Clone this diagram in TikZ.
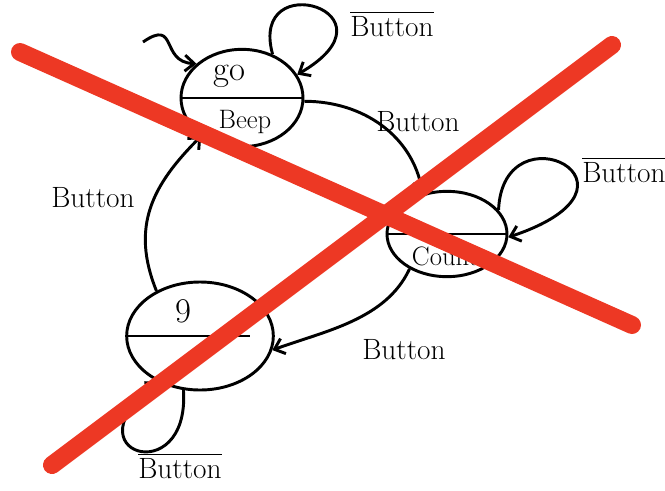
\documentclass[tikz,border=0pt]{standalone}
\usepackage{tikz}
\usetikzlibrary{arrows.meta}
\usetikzlibrary{shapes.geometric, positioning, calc}
\usepackage{xcolor}
\usepackage{amsmath}

\definecolor{crossred}{RGB}{237,56,36}
\newcommand{\notbtn}{$\overline{\mbox{Button}}$}

\begin{document}
\begin{tikzpicture}[x=0.75pt, y=-0.75pt, >={Straight Barb[length=7pt,width=12pt]}, line width=2.2pt,
    state/.style={draw, ellipse, inner sep=0pt},
    lbl/.style={font=\fontsize{22}{26}\selectfont},
    big/.style={font=\fontsize{26}{30}\selectfont}]
      \useasboundingbox (0,0) rectangle (665,490);

      \node[state, minimum width=91.5pt, minimum height=73pt] (go) at (242,98) {};
      \node[state, minimum width=90pt, minimum height=64pt] (count) at (447,234) {};
      \node[state, minimum width=110pt, minimum height=81pt] (nine) at (200,336) {};
      \draw (go.west) -- (go.east);
      \draw (count.west) -- (count.east);
      \draw (nine.west) -- ++(125,0);

      \node[big] (goname) at (229,76) {go};
      \node[font=\fontsize{20}{24}\selectfont] (beep) at (245,122) {Beep};
      \node[font=\fontsize{20}{24}\selectfont] (countname) at (445,256) {Count};
      \node[big] (ninename) at (183,311) {9};

      \coordinate (init) at (143,42);
      \draw[->] (init) .. controls (178,18) and (160,62) .. (go.143);

      \draw[->] (go.-3) to[out=0, in=100] (count.121);
      \draw[->] (count.223) to[out=-115, in=20, looseness=0.9] (nine.349);
      \draw[->] (nine.134) to[out=112, in=225, looseness=1.1] (go.223);
      \node[lbl] (b1) at (418,122) {Button};
      \node[lbl] (b2) at (404,350) {Button};
      \node[lbl] (b3) at (93,198) {Button};

      \draw[->] (go.55) .. controls (248,-35) and (405,12) .. (go.23);
      \draw[->] (count.25) .. controls (503,105) and (665,185) .. (count.-3);
      \draw[->] (nine.253) .. controls (190,492) and (65,452) .. (nine.228);
      \node[lbl] (nb1) at (392,24) {\notbtn};
      \node[lbl] (nb2) at (624,170) {\notbtn};
      \node[lbl] (nb3) at (180,466) {\notbtn};

      \draw[crossred, line width=13.5pt, line cap=round] (20,52) -- (632,325);
      \draw[crossred, line width=13.5pt, line cap=round] (52,465) -- (612,45);
    \end{tikzpicture}
\end{document}
